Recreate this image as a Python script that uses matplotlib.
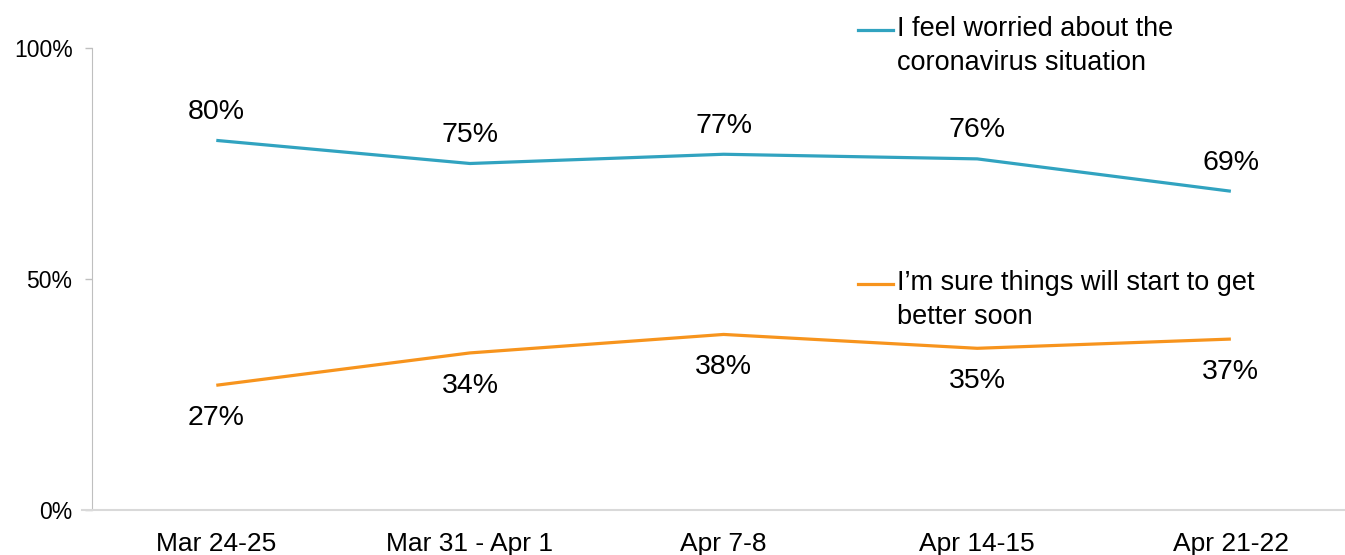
import matplotlib
matplotlib.use("Agg")
import matplotlib.pyplot as plt
from matplotlib.lines import Line2D

plt.rcParams['font.family'] = ['Liberation Sans', 'DejaVu Sans']

# data
periods = ['Mar 24-25', 'Mar 31 - Apr 1', 'Apr 7-8', 'Apr 14-15', 'Apr 21-22']
worried = [80, 75, 77, 76, 69]
better = [27, 34, 38, 35, 37]
worried_label = 'I feel worried about the\ncoronavirus situation'
better_label = 'I\u2019m sure things will start to get\nbetter soon'

teal = '#31A3C0'
orange = '#F7941D'

W, H = 1345, 555
fig = plt.figure(figsize=(W / 100, H / 100), dpi=100)
ax = fig.add_axes([92 / W, 1 - 510 / H, 1 - 92 / W, (510 - 48) / H])

x = list(range(len(periods)))
ax.plot(x, worried, color=teal, lw=2.3, solid_capstyle='butt')
ax.plot(x, better, color=orange, lw=2.3, solid_capstyle='butt')

for xi, v in zip(x, worried):
    ax.annotate(f'{v}%', (xi, v), xytext=(0, 20.5), textcoords='offset points',
                ha='center', va='center', fontsize=20.5)
for xi, v in zip(x, better):
    ax.annotate(f'{v}%', (xi, v), xytext=(0, -23.5), textcoords='offset points',
                ha='center', va='center', fontsize=20.5)

ax.set_xlim(-0.49, 4.45)
ax.set_ylim(0, 100)
ax.set_yticks([0, 50, 100])
ax.set_yticklabels(['0%', '50%', '100%'], fontsize=16.5)
ax.set_xticks(x)
ax.set_xticklabels(periods, fontsize=19)
ax.tick_params(axis='x', length=0, pad=16)
ax.tick_params(axis='y', length=5, width=1, color='#BFBFBF', pad=9)

for s in ['top', 'right']:
    ax.spines[s].set_visible(False)
ax.spines['left'].set_color('#BFBFBF')
ax.spines['bottom'].set_color('#D9D9D9')
ax.spines['bottom'].set_linewidth(1.5)
ax.spines['bottom'].set_bounds(-0.53, 4.45)

# legend entries drawn by hand (handle aligned with first text line)
def legend_entry(y_px, color, text):
    y = 1 - y_px / H
    fig.add_artist(Line2D([858 / W, 893 / W], [y, y], color=color, lw=2.3,
                          transform=fig.transFigure))
    fig.text(897 / W, 1 - (y_px - 14) / H, text, ha='left', va='top',
             fontsize=19.5, linespacing=1.38)

legend_entry(30, teal, worried_label)
legend_entry(284, orange, better_label)

fig.savefig('out.png', dpi=100)
